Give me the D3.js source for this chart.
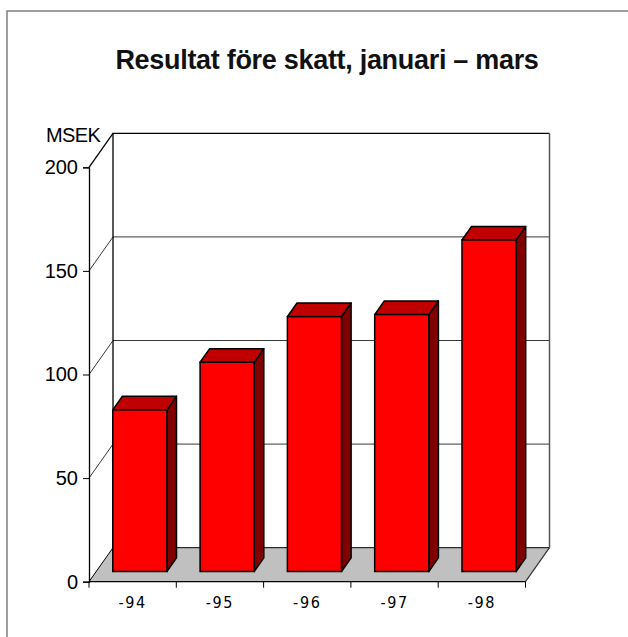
<!DOCTYPE html>
<html>
<head>
<meta charset="utf-8">
<script src="https://cdn.jsdelivr.net/npm/d3@7"></script>
<style>
  body { margin: 0; background: #fff; }
  svg { display: block; }
</style>
</head>
<body>
<div id="chart"></div>
<script>
// data
var years = ["-94", "-95", "-96", "-97", "-98"];
var result = [78, 101, 123, 124, 160];
var yTicks = [0, 50, 100, 150, 200];

var W = 628, H = 637;
// depth offset of the 3d box (front plane -> back wall)
var DX = 24, DY = -34;
// bars sit between these depth fractions
var d0 = 0.3, d1 = 0.7;

var svg = d3.select("#chart")
  .append("svg")
    .attr("width", W)
    .attr("height", H);

// outer frame
svg.append("rect")
  .attr("x", 7).attr("y", 11)
  .attr("width", 640).attr("height", 640)
  .attr("fill", "none")
  .attr("stroke", "#808080")
  .attr("stroke-width", 1.5);

svg.append("text")
  .attr("x", 327).attr("y", 69)
  .attr("text-anchor", "middle")
  .attr("font-family", "Liberation Sans, Arial, sans-serif")
  .attr("font-weight", "bold")
  .attr("font-size", 27)
  .attr("letter-spacing", -0.3)
  .attr("fill", "#111")
  .text("Resultat före skatt, januari – mars");

var x = d3.scaleBand().domain(years).range([89, 525.5])
  .paddingInner(0.38).paddingOuter(0.19);
var y = d3.scaleLinear().domain([0, 200]).range([581.7, 167.3]);

var x0 = 89, x1 = 525.5;
var yTop = y(200), yBot = y(0);

// back wall
svg.append("rect")
  .attr("x", x0 + DX).attr("y", yTop + DY)
  .attr("width", x1 - x0).attr("height", yBot - yTop)
  .attr("fill", "#fff");

// gridlines on side wall + back wall
var grid = svg.append("g");
yTicks.filter(d => d > 0 && d < 200).forEach(function (v) {
  grid.append("path")
    .attr("d", d3.line()([[x0, y(v)], [x0 + DX, y(v) + DY], [x1 + DX, y(v) + DY]]))
    .attr("fill", "none")
    .attr("stroke", "#222")
    .attr("stroke-width", 0.9);
});

// floor
svg.append("path")
  .attr("d", d3.line()([[x0, yBot], [x0 + DX, yBot + DY], [x1 + DX, yBot + DY], [x1, yBot]]) + "Z")
  .attr("fill", "#c0c0c0")
  .attr("stroke", "none");
svg.append("path")
  .attr("d", d3.line()([[x0, yBot], [x0 + DX, yBot + DY]]))
  .attr("stroke", "#000").attr("stroke-width", 1);
svg.append("path")
  .attr("d", d3.line()([[x1, yBot], [x1 + DX, yBot + DY]]))
  .attr("stroke", "#333").attr("stroke-width", 1.2);
svg.append("path")
  .attr("d", d3.line()([[x0 + DX, yBot + DY], [x1 + DX, yBot + DY]]))
  .attr("stroke", "#000").attr("stroke-width", 1);

// back wall frame
svg.append("path")
  .attr("d", d3.line()([[x0 + DX, yBot + DY], [x0 + DX, yTop + DY], [x1 + DX, yTop + DY]]))
  .attr("fill", "none")
  .attr("stroke", "#000").attr("stroke-width", 1.3);
svg.append("path")
  .attr("d", d3.line()([[x1 + DX, yTop + DY], [x1 + DX, yBot + DY]]))
  .attr("fill", "none")
  .attr("stroke", "#555").attr("stroke-width", 1.5);
svg.append("path")
  .attr("d", d3.line()([[x0, yTop], [x0 + DX, yTop + DY]]))
  .attr("stroke", "#000").attr("stroke-width", 1.3);

// bars
var bars = svg.append("g").selectAll("g")
  .data(years.map((c, i) => ({cat: c, val: result[i]})))
  .join("g");

bars.each(function (d) {
  var g = d3.select(this);
  var bx = x(d.cat) + DX * d0, bw = x.bandwidth();
  var by0 = y(0) + DY * d0, by1 = y(d.val) + DY * d0;
  var ddx = DX * (d1 - d0), ddy = DY * (d1 - d0);
  g.append("path")
    .attr("d", d3.line()([[bx + bw, by0], [bx + bw + ddx, by0 + ddy], [bx + bw + ddx, by1 + ddy], [bx + bw, by1]]) + "Z")
    .attr("fill", "#800000").attr("stroke", "#000").attr("stroke-width", 1.5)
    .attr("stroke-linejoin", "round");
  g.append("path")
    .attr("d", d3.line()([[bx, by1], [bx + ddx, by1 + ddy], [bx + bw + ddx, by1 + ddy], [bx + bw, by1]]) + "Z")
    .attr("fill", "#c00000").attr("stroke", "#000").attr("stroke-width", 1.5)
    .attr("stroke-linejoin", "round");
  g.append("rect")
    .attr("x", bx).attr("y", by1)
    .attr("width", bw).attr("height", by0 - by1)
    .attr("fill", "#ff0000").attr("stroke", "#000").attr("stroke-width", 1.5);
});

// front floor edge
svg.append("path")
  .attr("d", d3.line()([[x0, yBot], [x1, yBot]]))
  .attr("stroke", "#000").attr("stroke-width", 1.3);

// y axis
var yAxis = svg.append("g")
  .attr("transform", "translate(" + x0 + ",0)")
  .call(d3.axisLeft(y).tickValues(yTicks).tickSize(6).tickPadding(5));
yAxis.select(".domain").attr("stroke", "#000").attr("stroke-width", 1.3);
yAxis.selectAll(".tick line").attr("stroke", "#000");
yAxis.selectAll(".tick text")
  .attr("font-family", "Liberation Sans, Arial, sans-serif")
  .attr("font-size", 20)
  .attr("fill", "#000");

// x axis ticks at category boundaries
var xAxis = svg.append("g")
  .attr("transform", "translate(0," + yBot + ")")
  .call(d3.axisBottom(x).tickSize(0).tickPadding(15));
xAxis.select(".domain").remove();
xAxis.selectAll(".tick text")
  .attr("font-family", "DejaVu Sans Condensed, Liberation Sans Narrow, sans-serif")
  .attr("font-size", 16)
  .attr("letter-spacing", 1.6)
  .attr("fill", "#000");
var bounds = years.map(c => x(c) - x.step() * x.paddingInner() / 2);
bounds[0] = x0;
bounds.push(x1);
svg.append("g").selectAll("line")
  .data(bounds)
  .join("line")
    .attr("x1", d => d).attr("x2", d => d)
    .attr("y1", yBot).attr("y2", yBot + 6)
    .attr("stroke", "#000").attr("stroke-width", 1);

svg.append("text")
  .attr("x", 46).attr("y", 141.5)
  .attr("font-family", "Liberation Sans, Arial, sans-serif")
  .attr("font-size", 20)
  .attr("letter-spacing", -0.6)
  .attr("fill", "#000")
  .text("MSEK");
</script>
</body>
</html>
